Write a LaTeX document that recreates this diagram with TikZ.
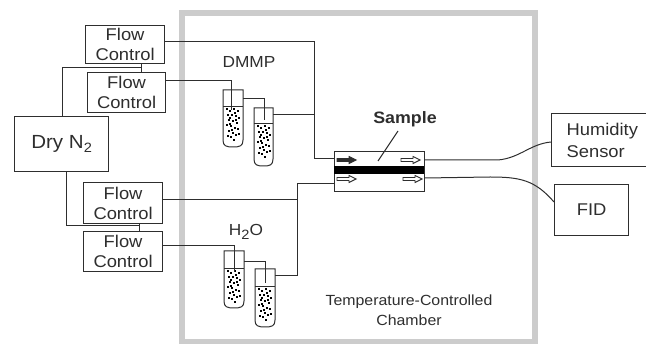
\documentclass[tikz,border=0pt]{standalone}
\usepackage{fontspec}
\setmainfont[FakeStretch=1.08]{Liberation Sans}
\usetikzlibrary{calc}
\definecolor{chamber}{gray}{0.8}
\definecolor{ink}{gray}{0.18}
\tikzset{
  x=1pt,y=-1pt,
  wire/.style={draw=ink,line width=1pt},
  boxed/.style={draw=ink,line width=1.2pt,fill=white,inner sep=0pt,anchor=north west,align=center,font=\fontsize{17}{20}\selectfont,text=ink},
  label/.style={inner sep=0pt,text=ink,align=center,font=\fontsize{16}{21}\selectfont},
  tube/.style={draw=ink,line width=1pt},
  flowarrow/.style={draw=ink,line width=0.9pt,fill=white},
}
% #1 left x, #2 right x, #3 top y, #4 bottom y, #5 liquid level
\newcommand{\testtube}[5]{%
  \draw[tube,fill=white] (#1,#3) -- (#1,#4-7) .. controls (#1,#4-1) and (#1+3,#4) .. ({(#1+#2)/2},#4)
     .. controls (#2-3,#4) and (#2,#4-1) .. (#2,#4-7) -- (#2,#3) -- cycle;
  \draw[tube,line width=0.6pt] (#1,#5) -- (#2,#5);
  \foreach \dx/\dy in {3/2,6/4,10/2,14/4,4/8,8/8,12/9,15/11,5/13,9/14,13/16,3/18,7/19,11/21,14/22,5/24,9/26,12/28,7/30,4/29,10/33,15/27,6/11,8/23,11/6,6/17,12/13}{
    \fill[black] (#1+\dx,#5+\dy) rectangle ++(2.2,2.4);
  }%
}
\newcommand{\blockarrow}[3][white]{%
  \draw[flowarrow,fill=#1] (#2,#3-1.5) -- ++(12,0) -- ++(0,-2) -- ++(7,3.5) -- ++(-7,3.5) -- ++(0,-2) -- ++(-12,0) -- cycle;
}
\newcommand{\subtwo}{\raisebox{-3.5pt}{\fontsize{13.5}{13.5}\selectfont 2}}
\begin{document}
\begin{tikzpicture}
\useasboundingbox (0,0) rectangle (646,344);
\draw[chamber,line width=6pt] (182,13) -- (534.5,13) -- (534.5,342) -- (182,342) -- cycle;

% tubes
\testtube{223}{243}{90}{147}{106}
\testtube{254}{273}{108}{166}{123}
\testtube{224}{244}{251}{308}{268}
\testtube{255}{275}{269}{327}{286}

% boxes
\node[boxed,minimum width=79pt,minimum height=38pt] (fc1) at (85,25) {Flow\\Control};
\node[boxed,minimum width=78pt,minimum height=40pt] (fc2) at (87,72) {Flow\\Control};
\node[boxed,minimum width=94pt,minimum height=55pt,font=\fontsize{19}{22}\selectfont] (dry) at (14,116) {Dry N\subtwo};
\node[boxed,minimum width=79pt,minimum height=41pt] (fc3) at (83,182) {Flow\\Control};
\node[boxed,minimum width=79pt,minimum height=40pt] (fc4) at (83,231) {Flow\\Control};
\node[boxed,minimum width=106pt,minimum height=53pt,align=left,text width=76pt,font=\fontsize{17}{22}\selectfont] (hum) at (551,113) {Humidity\\Sensor};
\node[boxed,minimum width=74pt,minimum height=51pt] (fid) at (554,184) {FID};

% sample cell
\node[draw=ink,line width=1.2pt,fill=white,minimum width=90pt,minimum height=40pt,inner sep=0pt,anchor=north west] (cell) at (334,151) {};
\fill[black] (334,166) rectangle (424,174);
\blockarrow[ink]{337}{160}
\blockarrow{401}{160}
\blockarrow{337}{179}
\blockarrow{403}{179}

% labels
\node[label] (dmmp) at (249,62) {DMMP};
\node[label] (water) at (246,232) {H\subtwo O};
\node[label,font=\fontsize{16.5}{18}\bfseries\selectfont] (sample) at (405,119) {Sample};
\node[label,font=\fontsize{14.7}{20}\selectfont] (chambertext) at (409,310) {Temperature-Controlled\\Chamber};

% wiring: gas feed
\coordinate (t1in) at (231,110);
\coordinate (t2in) at (264,120);
\coordinate (t3in) at (234,272);
\coordinate (t4in) at (265,283);
\coordinate (busA) at (141,68);
\coordinate (busB) at (139,226);
\draw[wire] (dry.north -| 62,116) -- (62,68) -- (busA);
\draw[wire] (busA |- fc1.south) -- (busA |- fc2.north);
\draw[wire] (dry.south -| 66,171) -- (66,226) -- (busB);
\draw[wire] (busB |- fc3.south) -- (busB |- fc4.north);

\draw[wire] (fc1.east |- 0,42) -- (314,42) -- (314,159) -- (cell.west |- 0,159);
\draw[wire] (fc2.east |- 0,81) -- (231,81) -- (t1in);
\draw[wire] (243,99) -- (264,99) -- (t2in);
\draw[wire] (273,115) -- (314,115);
\draw[wire] (fc3.east |- 0,200) -- (297,200);
\draw[wire] (fc4.east |- 0,245.5) -- (234,245.5) -- (t3in);
\draw[wire] (244,262) -- (265,262) -- (t4in);
\draw[wire] (275,276) -- (297,276) -- (297,184) -- (cell.west |- 0,184);

% outlets
\draw[wire] (398,131) -- (378,161);
\coordinate (humin) at (hum.west |- 0,142);
\coordinate (fidin) at (fid.west |- 0,202);
\draw[wire] (cell.east |- 0,160) -- (498,160) .. controls (520,158) and (530,144) .. (humin);
\draw[wire] (cell.east |- 0,178) -- (490,177) .. controls (520,177) and (535,180) .. (fidin);
\end{tikzpicture}
\end{document}
